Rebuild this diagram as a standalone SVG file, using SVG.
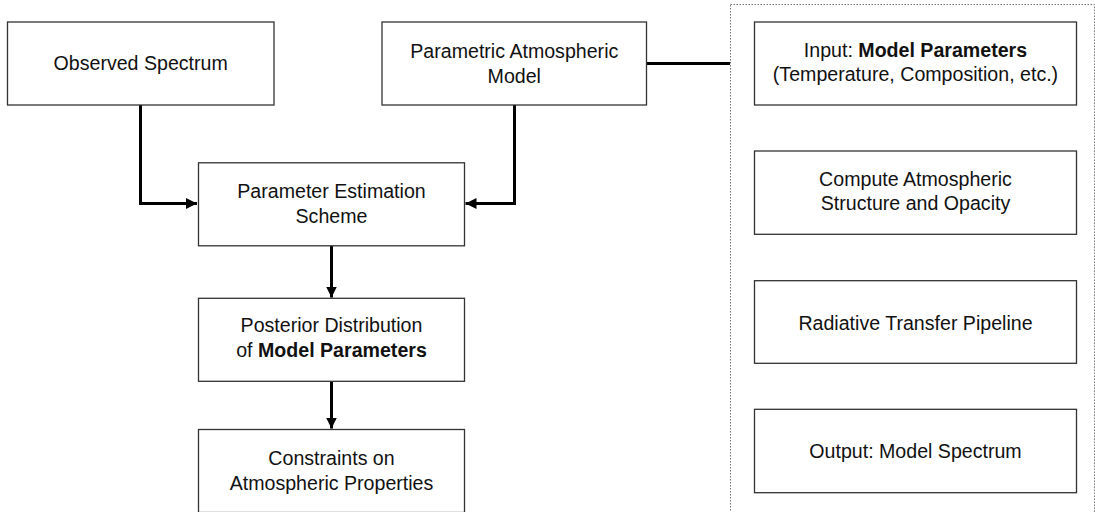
<svg xmlns="http://www.w3.org/2000/svg" width="1095" height="512" viewBox="0 0 1095 512">
<defs>
<style>
.box{fill:#fff;stroke:#333;stroke-width:1.3}
.t{font-family:"Liberation Sans",Arial,sans-serif;font-size:19.6px;fill:#111;text-anchor:middle}
.b{font-weight:bold}
.c{fill:none;stroke:#000;stroke-width:3}
.grp{fill:none;stroke:#777;stroke-width:1;stroke-dasharray:1.5 1.5}
</style>
<marker id="ah" viewBox="0 0 10 10" refX="10" refY="5" markerWidth="11" markerHeight="11" markerUnits="userSpaceOnUse" orient="auto">
<path d="M0,0 L10,5 L0,10 z" fill="#000"/>
</marker>
</defs>
<rect width="1095" height="512" fill="#fff"/>
<rect class="grp" x="730.5" y="4.5" width="364" height="510"/>
<g id="connectors">
<path class="c" d="M140.5 105 V203.5 H197" marker-end="url(#ah)"/>
<path class="c" d="M514.5 105 V203.5 H465.5" marker-end="url(#ah)"/>
<path class="c" d="M331.5 246 V297.5" marker-end="url(#ah)"/>
<path class="c" d="M331.5 381.5 V428.5" marker-end="url(#ah)"/>
<path class="c" d="M647 63.5 H730"/>
</g>
<g id="observed">
<rect class="box" x="7.5" y="22" width="266.5" height="83"/>
<text class="t" x="140.7" y="70">Observed Spectrum</text>
</g>
<g id="parametric">
<rect class="box" x="382" y="22" width="264.5" height="83"/>
<text class="t" x="514.3" y="58">Parametric Atmospheric</text>
<text class="t" x="514.3" y="82.5">Model</text>
</g>
<g id="estimation">
<rect class="box" x="198.5" y="162.8" width="266" height="83"/>
<text class="t" x="331.5" y="198.3">Parameter Estimation</text>
<text class="t" x="331.5" y="222.7">Scheme</text>
</g>
<g id="posterior">
<rect class="box" x="198.5" y="298.3" width="266" height="83"/>
<text class="t" x="331.5" y="332">Posterior Distribution</text>
<text class="t" x="331.5" y="356.5">of <tspan class="b">Model Parameters</tspan></text>
</g>
<g id="constraints">
<rect class="box" x="198.5" y="429.5" width="266" height="83"/>
<text class="t" x="331.5" y="465">Constraints on</text>
<text class="t" x="331.5" y="490">Atmospheric Properties</text>
</g>
<g id="input">
<rect class="box" x="754.5" y="22" width="322" height="83"/>
<text class="t" x="915.5" y="57">Input: <tspan class="b">Model Parameters</tspan></text>
<text class="t" x="915.5" y="81">(Temperature, Composition, etc.)</text>
</g>
<g id="compute">
<rect class="box" x="754.5" y="151" width="322" height="83.3"/>
<text class="t" x="915.5" y="186">Compute Atmospheric</text>
<text class="t" x="915.5" y="210">Structure and Opacity</text>
</g>
<g id="radiative">
<rect class="box" x="754.5" y="280.7" width="322" height="82.6"/>
<text class="t" x="915.5" y="329.5">Radiative Transfer Pipeline</text>
</g>
<g id="output">
<rect class="box" x="754.5" y="409.3" width="322" height="83.4"/>
<text class="t" x="915.5" y="458">Output: Model Spectrum</text>
</g>
</svg>
